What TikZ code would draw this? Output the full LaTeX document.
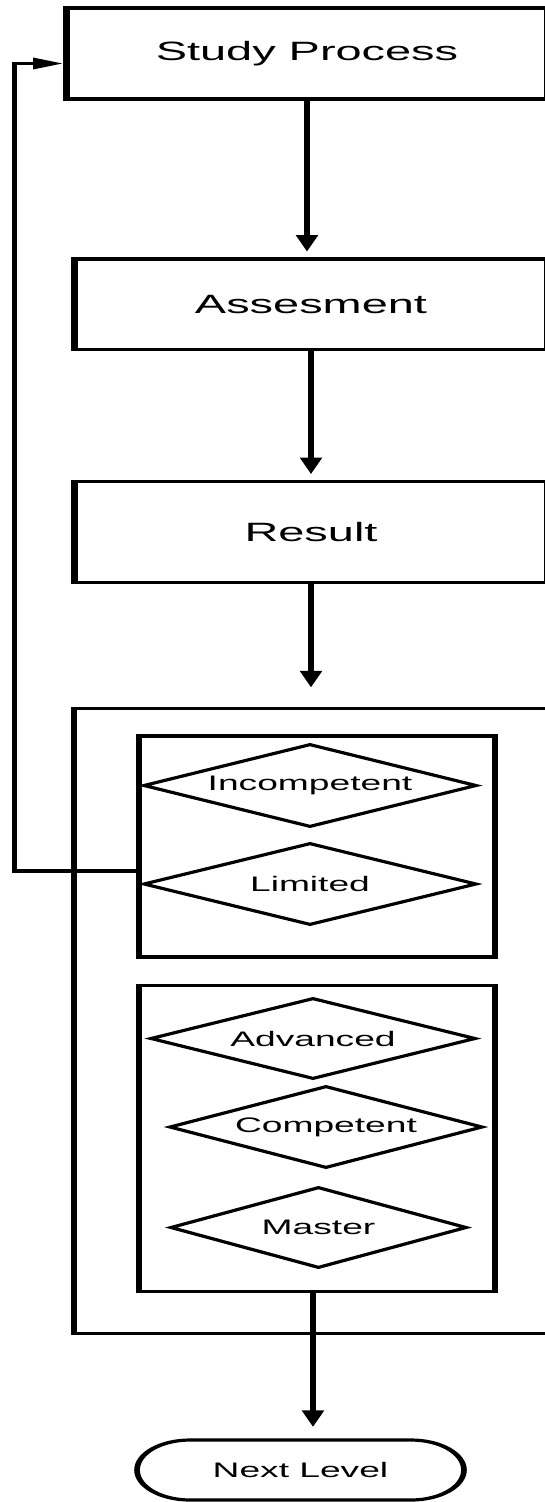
\documentclass[tikz,border=0pt]{standalone}
\usepackage{fontspec}
\setmainfont{Liberation Sans}
\usetikzlibrary{shapes.geometric,shapes.misc,arrows.meta}
\begin{document}
\begin{tikzpicture}[x=1pt,y=-1pt]
\useasboundingbox (0,0) rectangle (544,1502);
\begin{scope}[transform canvas={xscale=1.77}, x=0.56497pt, y=-1pt,
  mainbox/.style={draw, rectangle, line width=3.8pt, inner sep=0pt,
    font=\fontsize{26.5}{30}\selectfont},
  outerbox/.style={draw, rectangle, line width=3.2pt, inner sep=0pt},
  groupbox/.style={draw, rectangle, line width=3.6pt, inner sep=0pt},
  level/.style={draw, diamond, line width=3pt, inner sep=0pt,
    font=\fontsize{21}{25}\selectfont},
  endbox/.style={draw, rounded rectangle, line width=3.2pt, inner sep=0pt,
    font=\fontsize{21}{25}\selectfont},
  flow/.style={line width=3.8pt, -{Triangle[length=17pt,width=11.5pt]}},
  loopline/.style={line width=3.2pt, -{Triangle[length=17pt,width=11pt]}}]

\node[mainbox, minimum width=271.75pt, minimum height=90.7pt] (study) at (307,53.6) {Study Process};
\node[mainbox, minimum width=267.2pt, minimum height=90.5pt] (assess) at (311,304.25) {Assesment};
\node[mainbox, minimum width=267.2pt, minimum height=101pt] (result) at (311,532) {Result};

\node[outerbox, minimum width=271.75pt, minimum height=625pt] (outer) at (314.5,1021) {};
\node[groupbox, minimum width=201.1pt, minimum height=221pt] (box1) at (317,846.5) {};
\node[groupbox, minimum width=201.1pt, minimum height=306pt] (box2) at (317,1138.5) {};

\node[level, aspect=2.27, minimum width=188.7pt, minimum height=83pt] (incomp) at (310,785.5) {Incompetent};
\node[level, aspect=2.3, minimum width=188.7pt, minimum height=82pt] (limited) at (310,884) {Limited};
\node[level, aspect=2.27, minimum width=184.2pt, minimum height=81pt] (adv) at (313,1038.5) {Advanced};
\node[level, aspect=2.16, minimum width=177.4pt, minimum height=82pt] (comp) at (326,1127) {Competent};
\node[level, aspect=2.07, minimum width=167.8pt, minimum height=81pt] (master) at (318.5,1227.5) {Master};

\node[endbox, minimum width=184.7pt, minimum height=60pt] (next) at (300.5,1470) {Next Level};

\draw[flow, shorten >=5pt] (study.south) -- (assess.north -| study.south);
\draw[flow, shorten >=5pt] (assess.south) -- (result.north);
\draw[flow, shorten >=19pt] (result.south) -- (result.south |- outer.north);

\coordinate (bx) at (313,0);
\draw[flow, shorten >=11pt] (bx |- box2.south) -- (bx |- next.north);

\coordinate (lb) at (14.5,871);
\coordinate (lt) at (14.5,63.5);
\draw[loopline] (box1.west |- lb) -- (lb) -- (lt) -- (study.west |- lt);
\end{scope}
\end{tikzpicture}
\end{document}
